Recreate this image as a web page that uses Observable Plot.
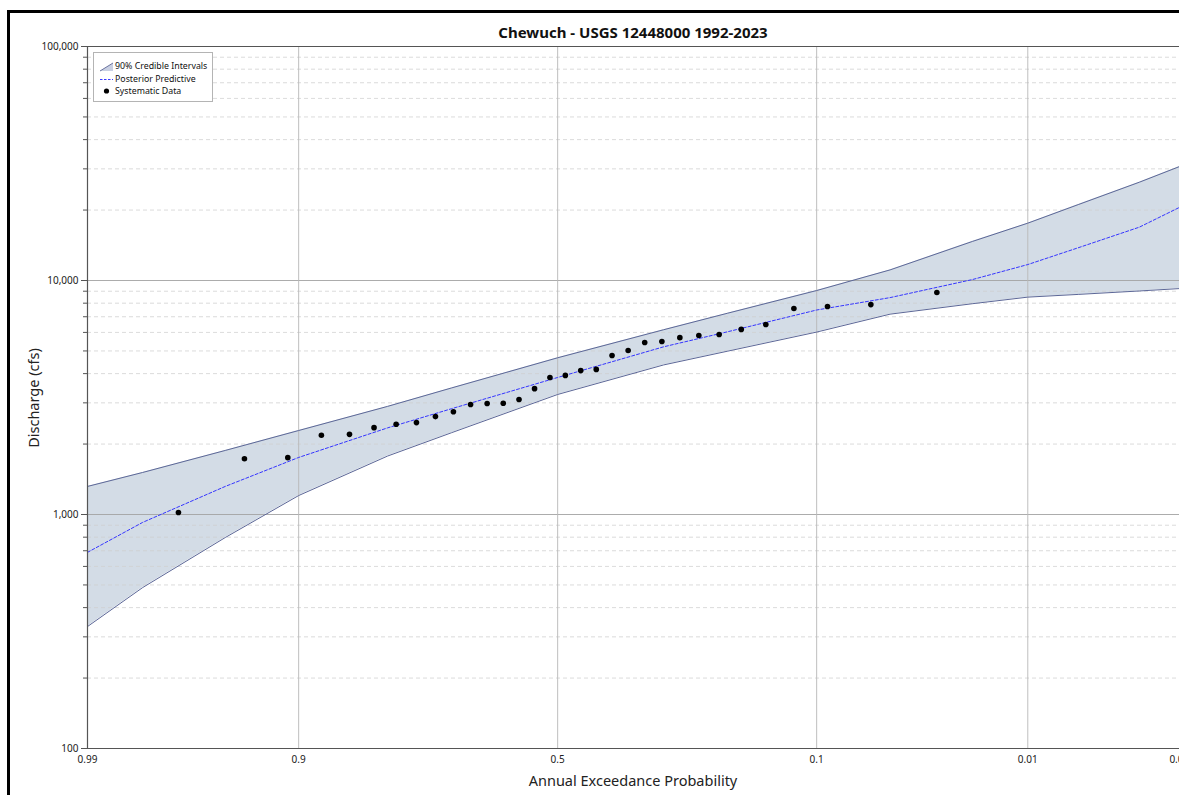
<!DOCTYPE html>
<html>
<head>
<meta charset="utf-8">
<script src="https://cdn.jsdelivr.net/npm/d3@7"></script>
<script src="https://cdn.jsdelivr.net/npm/@observablehq/plot@0.6"></script>
<style>
  html, body { margin: 0; padding: 0; background: #fff; overflow: hidden; }
  body { width: 1179px; height: 795px; position: relative; font-family: "Noto Sans", "Open Sans", sans-serif; }
  #border { position: absolute; left: 7px; top: 10px; width: 1400px; height: 1000px; border: 3px solid #000; box-sizing: border-box; }
  #chart { position: absolute; left: 0; top: 0; }
  #title { position: absolute; left: 87px; width: 1092px; top: 22px; text-align: center; font-weight: bold; font-size: 15px; color: #111; line-height: 20px; }
  #xlabel { position: absolute; left: 87px; width: 1092px; top: 770px; text-align: center; font-size: 14.5px; color: #222; line-height: 20px; }
  #ylabel { position: absolute; left: 33px; top: 398px; transform: translate(-50%, -50%) rotate(-90deg); font-size: 14.5px; color: #222; white-space: nowrap; line-height: 20px; }
  #legend { position: absolute; left: 93px; top: 52px; width: 120px; height: 50px; box-sizing: border-box; border: 1px solid #b4b4b4; background: #fff; font-size: 8.8px; color: #111; }
  #legend svg { position: absolute; left: 0; top: 0; }
  .li { position: absolute; left: 21px; line-height: 12px; white-space: nowrap; }
</style>
</head>
<body>
<div id="border"></div>
<div id="chart"></div>
<div id="title">Chewuch - USGS 12448000 1992-2023</div>
<div id="xlabel">Annual Exceedance Probability</div>
<div id="ylabel">Discharge (cfs)</div>
<div id="legend">
  <svg width="120" height="50">
    <path d="M6,18 L19,10 L19,18 Z" fill="#c9d0e3" stroke="none"></path>
    <path d="M6,18 L19,10" stroke="#6a73a0" stroke-width="1" fill="none"></path>
    <path d="M6,26.5 L19,26.5" stroke="#3b3bff" stroke-width="1" stroke-dasharray="2.5,1.5"></path>
    <circle cx="12.5" cy="38" r="2.6" fill="#000"></circle>
  </svg>
  <div class="li" style="top:7px">90% Credible Intervals</div>
  <div class="li" style="top:20px">Posterior Predictive</div>
  <div class="li" style="top:32px">Systematic Data</div>
</div>
<script>
// ---- Data ----
// Frequency-curve vertices (annual exceedance probability)
const curveProb = [0.99, 0.98, 0.95, 0.9, 0.8, 0.7, 0.5, 0.3, 0.2, 0.1, 0.05, 0.02, 0.01, 0.005, 0.002, 0.001];
const predictive = [689, 925, 1318, 1753, 2345, 2833, 3851, 5207, 6040, 7480, 8450, 10100, 11700, 13800, 16900, 20800];
const upper90 = [1318, 1512, 1878, 2285, 2897, 3475, 4674, 6160, 7250, 9060, 11100, 14700, 17580, 21100, 26300, 31000];
const lower90 = [332, 487, 797, 1205, 1777, 2237, 3258, 4357, 4990, 6020, 7180, 7960, 8490, 8720, 9020, 9250];

// Systematic data (plotting position, discharge in cfs)
const dataProb = [0.0303, 0.0606, 0.0909, 0.1212, 0.1515, 0.1818, 0.2121, 0.2424, 0.2727, 0.3030,
                  0.3333, 0.3636, 0.3939, 0.4242, 0.4545, 0.4848, 0.5152, 0.5455, 0.5758, 0.6061,
                  0.6364, 0.6667, 0.6970, 0.7273, 0.7576, 0.7879, 0.8182, 0.8485, 0.8788, 0.9091,
                  0.9394, 0.9697];
const discharge = [8890, 7890, 7740, 7590, 6490, 6180, 5880, 5820, 5700, 5490,
                   5430, 5020, 4780, 4170, 4120, 3930, 3850, 3450, 3100, 2990,
                   2980, 2950, 2750, 2620, 2470, 2430, 2350, 2200, 2180, 1750,
                   1730, 1020];

// Axis ticks
const xTickProb = [0.99, 0.9, 0.5, 0.1, 0.01, 0.001];
const xTickLabels = ["0.99", "0.9", "0.5", "0.1", "0.01", "0.001"];
const yMajor = [100, 1000, 10000, 100000];
const yMinor = [200, 300, 400, 500, 600, 700, 800, 900,
                2000, 3000, 4000, 5000, 6000, 7000, 8000, 9000,
                20000, 30000, 40000, 50000, 60000, 70000, 80000, 90000];

// ---- Normal probability transform (inverse standard normal CDF, Acklam) ----
function qnorm(p) {
  const a = [-3.969683028665376e+01, 2.209460984245205e+02, -2.759285104469687e+02, 1.383577518672690e+02, -3.066479806614716e+01, 2.506628277459239e+00];
  const b = [-5.447609879822406e+01, 1.615858368580409e+02, -1.556989798598866e+02, 6.680131188771972e+01, -1.328068155288572e+01];
  const c = [-7.784894002430293e-03, -3.223964580411365e-01, -2.400758277161838e+00, -2.549732539343734e+00, 4.374664141464968e+00, 2.938163982698783e+00];
  const d = [7.784695709041462e-03, 3.224671290700398e-01, 2.445134137142996e+00, 3.754408661907416e+00];
  const pl = 0.02425, ph = 1 - pl;
  let q, r;
  if (p < pl) {
    q = Math.sqrt(-2 * Math.log(p));
    return (((((c[0]*q+c[1])*q+c[2])*q+c[3])*q+c[4])*q+c[5]) / ((((d[0]*q+d[1])*q+d[2])*q+d[3])*q+1);
  } else if (p <= ph) {
    q = p - 0.5; r = q * q;
    return (((((a[0]*r+a[1])*r+a[2])*r+a[3])*r+a[4])*r+a[5])*q / (((((b[0]*r+b[1])*r+b[2])*r+b[3])*r+b[4])*r+1);
  } else {
    q = Math.sqrt(-2 * Math.log(1 - p));
    return -(((((c[0]*q+c[1])*q+c[2])*q+c[3])*q+c[4])*q+c[5]) / ((((d[0]*q+d[1])*q+d[2])*q+d[3])*q+1);
  }
}
const zOf = aep => qnorm(1 - aep);

const curve = curveProb.map((p, i) => ({z: zOf(p), pred: predictive[i], lo: lower90[i], hi: upper90[i]}));
const points = dataProb.map((p, i) => ({z: zOf(p), q: discharge[i]}));
const xTickZ = xTickProb.map(zOf);
const labelFor = z => { let bi = 0; xTickZ.forEach((t, i) => { if (Math.abs(t - z) < Math.abs(xTickZ[bi] - z)) bi = i; }); return xTickLabels[bi]; };

const x0 = zOf(0.99);
const chart = Plot.plot({
  width: 1179,
  height: 795,
  marginLeft: 87,
  marginRight: 0,
  marginTop: 46,
  marginBottom: 47,
  style: {fontFamily: "'Noto Sans', 'Open Sans', sans-serif", fontSize: "10px", background: "transparent", overflow: "visible", color: "#222"},
  x: {type: "linear", domain: [x0, 3.077]},
  y: {type: "log", domain: [100, 100000]},
  marks: [
    Plot.areaY(curve, {x: "z", y1: "lo", y2: "hi", fill: "#d3dce6", fillOpacity: 1, clip: true}),
    Plot.gridY(yMinor, {stroke: "#cfcfcf", strokeOpacity: 0.75, strokeDasharray: "4,3"}),
    Plot.gridY(yMajor, {stroke: "#a3a3a3", strokeOpacity: 0.9}),
    Plot.gridX(xTickZ.filter(v => v > x0 + 0.01 && v < 3.07), {stroke: "#b8b8b8", strokeOpacity: 0.9}),
    Plot.line(curve, {x: "z", y: "lo", stroke: "#5c6797", strokeWidth: 1, clip: true}),
    Plot.line(curve, {x: "z", y: "hi", stroke: "#5c6797", strokeWidth: 1, clip: true}),
    Plot.line(curve, {x: "z", y: "pred", stroke: "#3535ff", strokeWidth: 1, strokeDasharray: "3,2", clip: true}),
    Plot.dot(points, {x: "z", y: "q", r: 2.8, fill: "#000", stroke: "none"}),
    Plot.ruleX([x0], {stroke: "#555", strokeWidth: 1.2}),
    Plot.ruleY([100], {stroke: "#555", strokeWidth: 1.2}),
    Plot.ruleY([100000], {stroke: "#555", strokeWidth: 1.2}),
    Plot.axisY(yMajor, {tickFormat: d3.format(","), tickSize: 6, tickPadding: 3, stroke: "#555", label: null, fill: "#222"}),
    Plot.axisY(yMinor, {tickFormat: () => "", tickSize: 4, stroke: "#555", label: null}),
    Plot.axisX(xTickZ, {tickFormat: labelFor, tickSize: 0, tickPadding: 7, label: null, fill: "#222"})
  ]
});
document.getElementById("chart").appendChild(chart);
</script>
</body>
</html>
